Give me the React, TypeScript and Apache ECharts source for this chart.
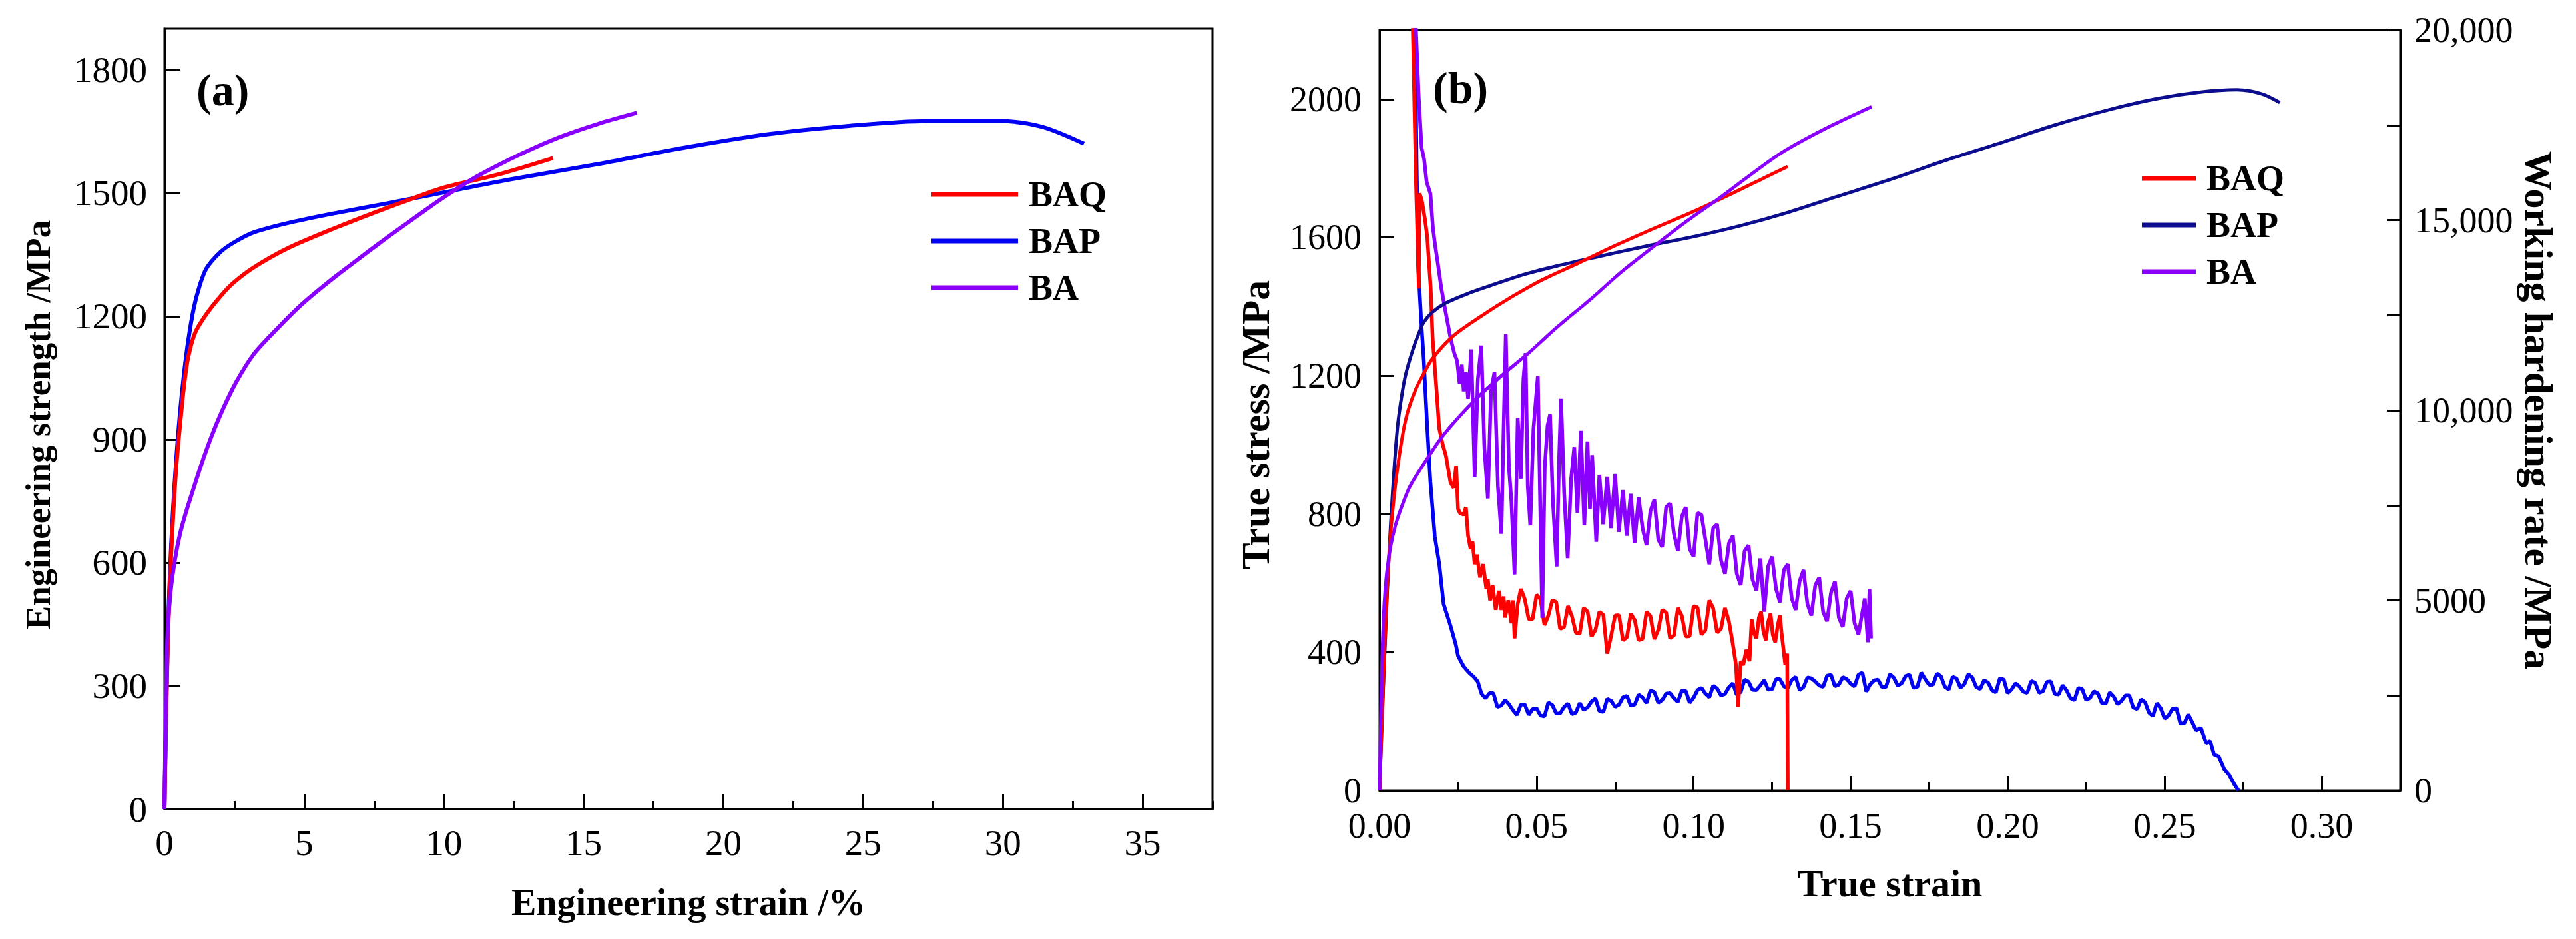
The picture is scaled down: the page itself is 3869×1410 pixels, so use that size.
import { useEffect, useRef } from 'react';
import * as echarts from 'echarts';

const FONT = '"Liberation Serif", "Times New Roman", serif';

// ---- (a) engineering stress-strain: [strain %, MPa]
const engBAQ: [number, number][] = [
  [0, 0], [0.05, 190], [0.12, 400], [0.2, 560], [0.3, 700], [0.42, 830], [0.55, 930], [0.7, 1030],
  [0.85, 1100], [1.1, 1160], [1.5, 1205], [2.0, 1248], [2.43, 1279], [3.18, 1318], [4.4, 1365],
  [5.9, 1409], [7.43, 1450], [8.7, 1482], [10, 1513], [12, 1546], [13.9, 1585]
];
const engBAP: [number, number][] = [
  [0, 0], [0.05, 200], [0.12, 420], [0.2, 580], [0.3, 720], [0.42, 850], [0.55, 960], [0.7, 1060],
  [0.85, 1140], [1.05, 1220], [1.25, 1272], [1.5, 1316], [2.0, 1356], [2.5, 1380], [3.2, 1404],
  [4.5, 1428], [6.2, 1452], [8.0, 1475], [9.9, 1500], [12.3, 1532], [15.5, 1570], [18.5, 1609],
  [21.6, 1643], [24.6, 1664], [27.3, 1675], [29.9, 1675], [31.4, 1661], [32.9, 1620]
];
const engBA: [number, number][] = [
  [0, 0], [0.03, 150], [0.07, 320], [0.12, 440], [0.22, 530], [0.37, 605], [0.55, 668], [0.75, 718],
  [1.0, 772], [1.3, 835], [1.67, 905], [2.1, 975], [2.57, 1040], [3.2, 1108], [3.94, 1163],
  [4.9, 1228], [5.9, 1285], [6.8, 1332], [7.7, 1378], [8.8, 1432], [9.9, 1485], [11.1, 1537],
  [12.3, 1580], [13.3, 1612], [14.3, 1640], [15.6, 1670], [16.9, 1695]
];

// ---- (b) true stress: [true strain, MPa]
const trueBAQ: [number, number][] = [
  [0, 0], [0.001, 260], [0.0023, 560], [0.0035, 740], [0.005, 880], [0.007, 1010], [0.0088, 1090],
  [0.0115, 1160], [0.014, 1205], [0.0169, 1250], [0.0235, 1315], [0.032, 1370], [0.0423, 1429],
  [0.052, 1478], [0.0634, 1526], [0.074, 1572], [0.0846, 1615], [0.1, 1675], [0.1148, 1738],
  [0.122, 1770], [0.13, 1805]
];
const trueBAP: [number, number][] = [
  [0, 0], [0.001, 250], [0.002, 480], [0.003, 680], [0.0042, 870], [0.0057, 1050], [0.0072, 1150],
  [0.0085, 1210], [0.0106, 1275], [0.0124, 1320], [0.0141, 1355], [0.017, 1385], [0.0211, 1410],
  [0.028, 1437], [0.0352, 1460], [0.045, 1490], [0.0564, 1517], [0.07, 1545], [0.0846, 1574],
  [0.1, 1602], [0.115, 1634], [0.13, 1672], [0.145, 1716], [0.1645, 1773], [0.18, 1822],
  [0.199, 1877], [0.215, 1925], [0.233, 1971], [0.248, 2002], [0.261, 2020], [0.273, 2027],
  [0.281, 2015], [0.2867, 1990]
];
const trueBA: [number, number][] = [
  [0, 0], [0.0004, 220], [0.0008, 380], [0.0015, 540], [0.0023, 630], [0.0035, 705], [0.005, 765],
  [0.007, 820], [0.0097, 880], [0.0141, 945], [0.0205, 1030], [0.0302, 1128], [0.0395, 1205],
  [0.0474, 1265], [0.0565, 1340], [0.0677, 1425], [0.077, 1500], [0.0879, 1578], [0.098, 1648],
  [0.108, 1712], [0.118, 1780], [0.128, 1845], [0.142, 1915], [0.1567, 1978]
];

// ---- (b) working hardening rate: [true strain, MPa]
const hardBAQ: [number, number][] = [
  [0.0102, 22000], [0.0106, 20000], [0.0116, 16000], [0.0125, 13200], [0.0127, 15700], [0.0134, 15550],
  [0.0145, 15000], [0.0152, 14550], [0.0163, 13200], [0.0169, 11900], [0.018, 10700], [0.019, 9530],
  [0.0201, 9100], [0.0211, 8820], [0.0226, 8100], [0.0236, 7960], [0.0244, 8540], [0.025, 7400],
  [0.0256, 7300], [0.0268, 7250], [0.0275, 7450], [0.0282, 6700], [0.029, 6350], [0.0296, 6550],
  [0.0303, 5950], [0.031, 6200], [0.032, 5600], [0.033, 5950], [0.034, 5300], [0.0345, 5550],
  [0.0352, 5000], [0.036, 5400], [0.037, 4750], [0.038, 5250], [0.0388, 4750], [0.0395, 5100],
  [0.04, 4550], [0.041, 5000], [0.042, 4400], [0.0425, 5000], [0.043, 4000], [0.044, 4900],
  [0.045, 5300], [0.04625, 5030], [0.0475, 4500], [0.04875, 4510], [0.05, 5150], [0.05125, 5030],
  [0.0525, 4350], [0.05375, 4600], [0.055, 5000], [0.05625, 4960], [0.0575, 4250], [0.05875, 4295],
  [0.06, 4850], [0.06125, 4585], [0.0625, 4150], [0.06375, 4125], [0.065, 4800], [0.06625, 4705],
  [0.0675, 4050], [0.06875, 4225], [0.07, 4700], [0.07125, 4625], [0.0725, 3600], [0.07375, 4075],
  [0.075, 4600], [0.07625, 4612], [0.0775, 3950], [0.07875, 4028], [0.08, 4650], [0.08125, 4482],
  [0.0825, 3950], [0.08375, 3985], [0.085, 4700], [0.08625, 4587], [0.0875, 3980], [0.08875, 4222],
  [0.09, 4750], [0.09125, 4680], [0.0925, 4000], [0.09375, 4078], [0.095, 4800], [0.09625, 4592],
  [0.0975, 4050], [0.09875, 4060], [0.1, 4850], [0.10125, 4815], [0.1025, 4100], [0.10375, 4212],
  [0.105, 5000], [0.10625, 4790], [0.1075, 4150], [0.10875, 4260], [0.11, 4800], [0.11125, 4450],
  [0.1125, 3850], [0.1135, 3300], [0.1142, 2200], [0.115, 3400], [0.1158, 3300], [0.1168, 3700],
  [0.1178, 3400], [0.1185, 4500], [0.1192, 4150], [0.12, 4000], [0.1208, 4550], [0.1215, 4700],
  [0.1222, 4200], [0.123, 3950], [0.1238, 4450], [0.1245, 4650], [0.1252, 4100], [0.126, 3900],
  [0.1268, 4350], [0.1275, 4600], [0.128, 4150], [0.1285, 3800], [0.1292, 3300], [0.1298, 3600],
  [0.13, 0]
];
const hardBAP: [number, number][] = [
  [0.011, 22000], [0.0113, 20000], [0.0118, 16500], [0.0123, 13800], [0.0133, 12300], [0.0141, 11300],
  [0.0152, 9530], [0.0162, 8110], [0.0176, 6680], [0.019, 5970], [0.0204, 4900], [0.0226, 4330],
  [0.0243, 3830], [0.025, 3540], [0.0268, 3260], [0.0285, 3100], [0.03, 2990], [0.03125, 2870],
  [0.0325, 2540], [0.03375, 2425], [0.035, 2560], [0.03625, 2560], [0.0375, 2200], [0.03875, 2235],
  [0.04, 2380], [0.04125, 2265], [0.0425, 2110], [0.04375, 1988], [0.045, 2260], [0.04625, 2263],
  [0.0475, 1990], [0.04875, 2143], [0.05, 2160], [0.05125, 1975], [0.0525, 1950], [0.05375, 2315],
  [0.055, 2250], [0.05625, 2029], [0.0575, 2030], [0.05875, 2195], [0.06, 2290], [0.06125, 2007],
  [0.0625, 2050], [0.06375, 2302], [0.065, 2120], [0.06625, 2187], [0.0675, 2340], [0.06875, 2422],
  [0.07, 2090], [0.07125, 2067], [0.0725, 2410], [0.07375, 2361], [0.075, 2200], [0.07625, 2258],
  [0.0775, 2450], [0.07875, 2490], [0.08, 2230], [0.08125, 2263], [0.0825, 2520], [0.08375, 2448],
  [0.085, 2300], [0.08625, 2632], [0.0875, 2590], [0.08875, 2305], [0.09, 2380], [0.09125, 2547],
  [0.0925, 2560], [0.09375, 2430], [0.095, 2330], [0.09625, 2627], [0.0975, 2620], [0.09875, 2308],
  [0.1, 2440], [0.10125, 2642], [0.1025, 2700], [0.10375, 2551], [0.105, 2450], [0.10625, 2760],
  [0.1075, 2680], [0.10875, 2499], [0.11, 2540], [0.11125, 2717], [0.1125, 2820], [0.11375, 2516],
  [0.115, 2590], [0.11625, 2919], [0.1175, 2860], [0.11875, 2647], [0.12, 2640], [0.12125, 2765],
  [0.1225, 2900], [0.12375, 2653], [0.125, 2660], [0.12625, 2931], [0.1275, 2930], [0.12875, 2739],
  [0.13, 2700], [0.13125, 2906], [0.1325, 2990], [0.13375, 2641], [0.135, 2720], [0.13625, 2973],
  [0.1375, 2950], [0.13875, 2864], [0.14, 2760], [0.14125, 2724], [0.1425, 3020], [0.14375, 3044],
  [0.145, 2740], [0.14625, 2785], [0.1475, 2980], [0.14875, 2935], [0.15, 2810], [0.15125, 2734],
  [0.1525, 3050], [0.15375, 3101], [0.155, 2600], [0.15625, 2799], [0.1575, 2900], [0.15875, 2916],
  [0.16, 2720], [0.16125, 2722], [0.1625, 3060], [0.16375, 2967], [0.165, 2760], [0.16625, 2822],
  [0.1675, 3010], [0.16875, 3047], [0.17, 2700], [0.17125, 2722], [0.1725, 3100], [0.17375, 2927],
  [0.175, 2780], [0.17625, 2785], [0.1775, 3080], [0.17875, 3005], [0.18, 2730], [0.18125, 2655],
  [0.1825, 2990], [0.18375, 2945], [0.185, 2700], [0.18625, 2800], [0.1875, 3060], [0.18875, 2970],
  [0.19, 2720], [0.19125, 2670], [0.1925, 2900], [0.19375, 2840], [0.195, 2640], [0.19625, 2580],
  [0.1975, 2950], [0.19875, 2920], [0.2, 2560], [0.20125, 2658], [0.2025, 2820], [0.20375, 2734],
  [0.205, 2600], [0.20625, 2570], [0.2075, 2880], [0.20875, 2836], [0.21, 2570], [0.21125, 2612],
  [0.2125, 2860], [0.21375, 2869], [0.215, 2540], [0.21625, 2527], [0.2175, 2770], [0.21875, 2636],
  [0.22, 2430], [0.22125, 2374], [0.2225, 2700], [0.22375, 2669], [0.225, 2380], [0.22625, 2438],
  [0.2275, 2610], [0.22875, 2553], [0.23, 2300], [0.23125, 2288], [0.2325, 2580], [0.23375, 2473],
  [0.235, 2270], [0.23625, 2356], [0.2375, 2500], [0.23875, 2499], [0.24, 2180], [0.24125, 2144],
  [0.2425, 2400], [0.24375, 2321], [0.245, 2050], [0.24625, 1958], [0.2475, 2300], [0.24875, 2163],
  [0.25, 1890], [0.25125, 1978], [0.2525, 2150], [0.25375, 2163], [0.255, 1760], [0.25625, 1770],
  [0.2575, 2000], [0.25875, 1800], [0.26, 1580], [0.2615, 1650], [0.2632, 1250], [0.2645, 1300],
  [0.2657, 950], [0.2672, 900], [0.269, 560], [0.2705, 420], [0.2722, 160], [0.2735, 0]
];
const hardBA: [number, number][] = [
  [0.0113, 22000], [0.0116, 20000], [0.0125, 18200], [0.0134, 16900], [0.0142, 16600], [0.015, 16000],
  [0.0162, 15700], [0.017, 14800], [0.0176, 14400], [0.0185, 13900], [0.0197, 13200], [0.021, 12600],
  [0.0226, 11900], [0.0238, 11500], [0.0247, 11300], [0.0255, 10700], [0.0262, 11200], [0.0268, 10500],
  [0.0275, 11000], [0.0282, 10300], [0.0292, 11600], [0.0303, 8250], [0.0313, 10800], [0.0324, 11700],
  [0.0334, 9000], [0.0345, 7680], [0.0355, 10500], [0.0366, 11000], [0.0377, 8000], [0.0388, 6750],
  [0.0395, 9500], [0.0402, 12000], [0.0412, 8500], [0.042, 7600], [0.043, 5680], [0.044, 9800],
  [0.045, 8200], [0.0458, 10800], [0.0465, 11500], [0.0472, 8000], [0.048, 6970], [0.049, 9500],
  [0.0504, 10900], [0.0511, 7800], [0.0518, 4540], [0.0526, 8500], [0.0535, 9600], [0.0543, 9890],
  [0.0552, 7600], [0.0564, 5890], [0.0572, 8800], [0.0578, 10300], [0.0588, 7800], [0.0599, 6110],
  [0.061, 8200], [0.062, 9030], [0.063, 7300], [0.0641, 9460], [0.0652, 6970], [0.0662, 9180],
  [0.067, 7400], [0.0677, 8820], [0.069, 6540], [0.07, 8300], [0.0712, 7000], [0.0725, 8250],
  [0.0737, 6900], [0.075, 8320], [0.0762, 6800], [0.0775, 7900], [0.0787, 6700], [0.08, 7800],
  [0.0812, 6500], [0.0825, 7700], [0.08375, 6900], [0.085, 6450], [0.08625, 7350], [0.0875, 7650],
  [0.08875, 6600], [0.09, 6400], [0.09125, 7450], [0.0925, 7550], [0.09375, 6750], [0.095, 6300],
  [0.09625, 7200], [0.0975, 7450], [0.09875, 6350], [0.1, 6150], [0.10125, 7300], [0.1025, 7250],
  [0.10375, 6600], [0.105, 5950], [0.10625, 6900], [0.1075, 7000], [0.10875, 6050], [0.11, 5700],
  [0.11125, 6500], [0.1125, 6700], [0.11375, 5700], [0.115, 5400], [0.11625, 6300], [0.1175, 6450],
  [0.11875, 5550], [0.12, 5250], [0.12125, 6100], [0.1225, 4700], [0.12375, 5900], [0.125, 6150],
  [0.12625, 5300], [0.1275, 4950], [0.12875, 5800], [0.13, 5950], [0.13125, 5050], [0.1325, 4750],
  [0.13375, 5500], [0.135, 5800], [0.13625, 4900], [0.1375, 4600], [0.13875, 5400], [0.14, 5600],
  [0.14125, 4700], [0.1425, 4450], [0.14375, 5200], [0.145, 5500], [0.14625, 4550], [0.1475, 4300],
  [0.14875, 5050], [0.15, 5250], [0.15125, 4400], [0.1525, 4100], [0.1545, 5050], [0.1555, 3900],
  [0.156, 5300], [0.1565, 4000]
];

const seriesNames = ['BAQ', 'BAP', 'BA'];
const rateTickLabels: Record<number, string> = {
  0: '0', 5000: '5000', 10000: '10,000', 15000: '15,000', 20000: '20,000'
};

const RED = '#ff0000';
const BLUE = '#0000f2';
const NAVY = '#0c0c8e';
const VIOLET = '#8a00ff';

const axisLine = { show: true, onZero: false, lineStyle: { color: '#000', width: 3 } };
const tickLine = { color: '#000', width: 3 };
const plain = (v: number) => String(v);

function App() {
  const chartRef = useRef<HTMLDivElement>(null);

  useEffect(() => {
    if (!chartRef.current) return;
    const chart = echarts.init(chartRef.current, null, { renderer: 'svg' });

    const nameStyle = { fontFamily: FONT, fontSize: 56, fontWeight: 'bold', color: '#000' };
    const tickText = { fontSize: 54, lineHeight: 40, color: '#000' };
    const line = (name: string, data: [number, number][], color: string, width: number,
      xi: number, yi: number, smooth: boolean | number) => ({
      name, type: 'line', xAxisIndex: xi, yAxisIndex: yi, data, smooth,
      symbol: 'none', showSymbol: false, clip: true,
      lineStyle: { color, width }, itemStyle: { color }
    });

    const legendText = {
      fontFamily: FONT, fontSize: 54, fontWeight: 'bold', color: '#000',
      lineHeight: 54, padding: [0, 0, 0, 11]
    };

    const option: any = {
      animation: false,
      backgroundColor: '#ffffff',
      textStyle: { fontFamily: FONT, color: '#000' },
      grid: [
        { left: 247, top: 43, width: 1574, height: 1172, show: true, borderColor: '#000', borderWidth: 3 },
        { left: 2072, top: 45, width: 1533, height: 1142, show: true, borderColor: '#000', borderWidth: 3 }
      ],
      xAxis: [
        {
          gridIndex: 0, type: 'value', position: 'bottom', min: 0, max: 37.5, interval: 5,
          axisLine, axisTick: { inside: true, length: 23, lineStyle: tickLine },
          axisLabel: { ...tickText, fontSize: 55, margin: 30, showMaxLabel: false, formatter: plain },
          splitLine: { show: false },
          name: 'Engineering strain /%', nameLocation: 'middle', nameGap: 112, nameTextStyle: nameStyle
        },
        {
          gridIndex: 0, type: 'value', position: 'bottom', min: 0, max: 37.5, interval: 2.5,
          axisLine: { show: false }, axisTick: { inside: true, length: 12, lineStyle: tickLine },
          axisLabel: { show: false }, splitLine: { show: false }
        },
        {
          gridIndex: 1, type: 'value', position: 'bottom', min: 0, max: 0.325, interval: 0.05,
          axisLine, axisTick: { inside: true, length: 22, lineStyle: tickLine },
          axisLabel: {
            ...tickText, margin: 33, showMaxLabel: false,
            formatter: (v: number) => v.toFixed(2)
          },
          splitLine: { show: false },
          name: 'True strain', nameLocation: 'middle', nameGap: 110,
          nameTextStyle: { ...nameStyle, fontSize: 58 }
        },
        {
          gridIndex: 1, type: 'value', position: 'bottom', min: 0, max: 0.325, interval: 0.025,
          axisLine: { show: false }, axisTick: { inside: true, length: 12, lineStyle: tickLine },
          axisLabel: { show: false }, splitLine: { show: false }
        }
      ],
      yAxis: [
        {
          gridIndex: 0, type: 'value', position: 'left', min: 0, max: 1900, interval: 300,
          axisLine, axisTick: { inside: true, length: 24, lineStyle: tickLine },
          axisLabel: { ...tickText, fontSize: 55, margin: 26, showMaxLabel: false, formatter: plain },
          splitLine: { show: false },
          name: 'Engineering strength /MPa', nameLocation: 'middle', nameRotate: 90, nameGap: 164,
          nameTextStyle: { ...nameStyle, fontSize: 53, padding: [0, 18, 0, 0] }
        },
        {
          gridIndex: 1, type: 'value', position: 'left', min: 0, max: 2200, interval: 400,
          axisLine, axisTick: { inside: true, length: 22, lineStyle: tickLine },
          axisLabel: { ...tickText, margin: 27, showMaxLabel: false, formatter: plain },
          splitLine: { show: false },
          name: 'True stress /MPa', nameLocation: 'middle', nameRotate: 90, nameGap: 156,
          nameTextStyle: { ...nameStyle, fontSize: 60, padding: [0, 44, 0, 0] }
        },
        {
          gridIndex: 1, type: 'value', position: 'right', min: 0, max: 20000, interval: 5000,
          axisLine, axisTick: { inside: true, length: 20, lineStyle: tickLine },
          minorTick: { show: true, splitNumber: 2, length: 20, lineStyle: tickLine },
          axisLabel: {
            ...tickText, margin: 21,
            formatter: (v: number) => rateTickLabels[v] ?? String(v)
          },
          splitLine: { show: false },
          name: 'Working hardening rate /MPa', nameLocation: 'middle', nameRotate: -90, nameGap: 178,
          nameTextStyle: { ...nameStyle, fontSize: 60 }
        }
      ],
      legend: [
        {
          left: 1399, top: 265, orient: 'vertical', padding: 0, itemGap: 16,
          itemWidth: 130, itemHeight: 7, icon: 'rect', selectedMode: false,
          data: seriesNames.map((n, i) => ({ name: n, itemStyle: { color: [RED, BLUE, VIOLET][i] } })),
          textStyle: legendText
        },
        {
          left: 3217, top: 241, orient: 'vertical', padding: 0, itemGap: 16,
          itemWidth: 81, itemHeight: 7, icon: 'rect', selectedMode: false,
          data: seriesNames.map((n, i) => ({ name: n, itemStyle: { color: [RED, NAVY, VIOLET][i] } })),
          textStyle: legendText
        }
      ],
      graphic: [
        { type: 'text', left: 295, top: 101, style: { text: '(a)', font: `bold 68px ${FONT}`, fill: '#000' } },
        { type: 'text', left: 2152, top: 98, style: { text: '(b)', font: `bold 68px ${FONT}`, fill: '#000' } }
      ],
      series: [
        line('BAP', engBAP, BLUE, 6, 0, 0, 0.3),
        line('BAQ', engBAQ, RED, 6, 0, 0, 0.3),
        line('BA', engBA, VIOLET, 6, 0, 0, 0.3),
        line('BAP', hardBAP, BLUE, 5.5, 2, 2, false),
        line('BAQ', hardBAQ, RED, 5.5, 2, 2, false),
        line('BA', hardBA, VIOLET, 5.5, 2, 2, false),
        line('BAP', trueBAP, NAVY, 5, 2, 1, 0.3),
        line('BAQ', trueBAQ, RED, 5, 2, 1, 0.3),
        line('BA', trueBA, VIOLET, 5, 2, 1, 0.3)
      ]
    };

    chart.setOption(option);
    return () => {
      chart.dispose();
    };
  }, []);

  return (
    <div
      ref={chartRef}
      style={{ position: 'fixed', left: 0, top: 0, width: '3869px', height: '1410px', background: '#fff' }}
    />
  );
}

export default App;
